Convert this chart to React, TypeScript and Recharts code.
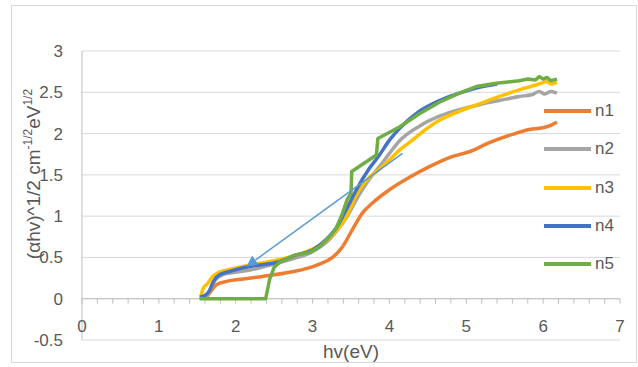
import React from 'react';
import { LineChart, Line, XAxis, YAxis, CartesianGrid, ReferenceLine } from 'recharts';

// [hv, (αhv)^1/2]
const n1Points: [number, number][] = [
  [1.62, 0.02], [1.66, 0.07], [1.75, 0.17], [1.88, 0.21], [2.1, 0.24], [2.35, 0.27],
  [2.7, 0.32], [2.94, 0.37], [3.09, 0.42], [3.26, 0.5], [3.39, 0.63], [3.52, 0.84],
  [3.65, 1.04], [3.78, 1.16], [4.0, 1.32], [4.26, 1.47], [4.52, 1.6], [4.78, 1.71],
  [5.04, 1.78], [5.3, 1.89], [5.6, 1.99], [5.82, 2.05], [5.99, 2.07], [6.1, 2.1], [6.18, 2.14],
];
const n2Points: [number, number][] = [
  [1.62, 0.03], [1.66, 0.1], [1.73, 0.22], [1.83, 0.29], [2.0, 0.32], [2.2, 0.35],
  [2.5, 0.42], [2.8, 0.5], [3.0, 0.57], [3.22, 0.72], [3.33, 0.84], [3.44, 0.98],
  [3.6, 1.25], [3.74, 1.45], [3.87, 1.6], [4.0, 1.76], [4.13, 1.91], [4.39, 2.09],
  [4.65, 2.21], [4.91, 2.29], [5.17, 2.35], [5.43, 2.4], [5.69, 2.45], [5.85, 2.47],
  [5.95, 2.51], [6.02, 2.48], [6.1, 2.51], [6.18, 2.49],
];
const n3Points: [number, number][] = [
  [1.55, 0.04], [1.57, 0.11], [1.64, 0.19], [1.7, 0.27], [1.78, 0.32], [1.9, 0.35],
  [2.2, 0.41], [2.5, 0.46], [2.8, 0.53], [3.0, 0.6], [3.22, 0.74], [3.33, 0.85],
  [3.44, 0.99], [3.57, 1.26], [3.74, 1.47], [3.87, 1.57], [4.0, 1.68], [4.13, 1.8],
  [4.3, 1.92], [4.39, 1.99], [4.65, 2.16], [4.91, 2.27], [5.17, 2.36], [5.43, 2.45],
  [5.69, 2.53], [5.95, 2.6], [6.05, 2.63], [6.1, 2.6], [6.18, 2.62],
];
const n4Points: [number, number][] = [
  [1.53, 0.02], [1.6, 0.04], [1.66, 0.1], [1.7, 0.19], [1.75, 0.26], [1.79, 0.29],
  [1.92, 0.33], [2.18, 0.39], [2.57, 0.45], [2.79, 0.53], [3.0, 0.59], [3.18, 0.72],
  [3.31, 0.86], [3.44, 1.08], [3.57, 1.32], [3.74, 1.58], [3.87, 1.74], [4.0, 1.92],
  [4.13, 2.06], [4.39, 2.27], [4.65, 2.4], [4.91, 2.49], [5.17, 2.56], [5.4, 2.6],
];
const n5Points: [number, number][] = [
  [1.53, 0], [2.39, 0], [2.44, 0.23], [2.5, 0.38], [2.57, 0.44], [2.66, 0.48],
  [2.77, 0.53], [2.96, 0.56], [3.09, 0.63], [3.22, 0.75], [3.31, 0.86], [3.38, 1.01],
  [3.45, 1.2], [3.5, 1.28], [3.51, 1.54], [3.83, 1.74], [3.85, 1.94], [4.13, 2.08],
  [4.39, 2.24], [4.65, 2.38], [4.91, 2.49], [5.13, 2.57], [5.39, 2.61], [5.6, 2.63],
  [5.69, 2.64], [5.8, 2.66], [5.9, 2.65], [5.95, 2.69], [6.0, 2.66], [6.05, 2.68],
  [6.1, 2.64], [6.18, 2.66],
];
// the hand-drawn arrow on the chart: from (start) to (tip)
const arrowPoints: [number, number][] = [[4.17, 1.76], [2.14, 0.39]];

const seriesNames = ['n1', 'n2', 'n3', 'n4', 'n5'];
const seriesPoints = [n1Points, n2Points, n3Points, n4Points, n5Points];
const seriesColors = ['#ED7D31', '#A5A5A5', '#FFC000', '#4472C4', '#70AD47'];
const seriesCurve: ('monotone' | 'linear')[] = ['monotone', 'monotone', 'monotone', 'monotone', 'linear'];

const xTicks = [0, 1, 2, 3, 4, 5, 6, 7];
const yTicks = [-0.5, 0, 0.5, 1, 1.5, 2, 2.5, 3];
const minorXTicks = Array.from({ length: 36 }, (_, i) => Math.round(i * 2) / 10);

const FONT = '"Liberation Sans", Arial, sans-serif';
const TEXT = '#595959';

const toRows = (pts: [number, number][]) => pts.map(([x, y]) => ({ x, y }));

const XTick = ({ x, y, payload }: any) => (
  <text x={x} y={y - 8} textAnchor="middle" fill={TEXT} fontSize={17} fontFamily={FONT}>
    {payload.value}
  </text>
);

const YTitle = () => (
  <text
    transform="translate(40,174) rotate(-90)"
    textAnchor="middle"
    fill={TEXT}
    fontSize={19}
    fontFamily={FONT}
  >
    (αhv)^1/2 cm
    <tspan fontSize={12} dy={-8}>-1/2</tspan>
    <tspan dy={8}>eV</tspan>
    <tspan fontSize={12} dy={-8}>1/2</tspan>
  </text>
);

const XTitle = (props: any) => {
  const { x, y, width } = props.viewBox;
  return (
    <text x={x + width / 2} y={y + 18} textAnchor="middle" fill={TEXT} fontSize={19} fontFamily={FONT}>
      hv(eV)
    </text>
  );
};

// line with an arrowhead at its second end
const ArrowShape = (props: any) => {
  const { x1, y1, x2, y2 } = props;
  const dx = x2 - x1;
  const dy = y2 - y1;
  const len = Math.sqrt(dx * dx + dy * dy) || 1;
  const ux = dx / len;
  const uy = dy / len;
  const bx = x2 - ux * 11;
  const by = y2 - uy * 11;
  const hw = 5.5;
  return (
    <g>
      <line x1={x1} y1={y1} x2={bx} y2={by} stroke="#5B9BD5" strokeWidth={1.5} />
      <polygon
        points={`${x2},${y2} ${bx - uy * hw},${by + ux * hw} ${bx + uy * hw},${by - ux * hw}`}
        fill="#5B9BD5"
      />
    </g>
  );
};

export default function App() {
  return (
    <div style={{ position: 'absolute', left: 0, top: 0, width: 638, height: 367, background: '#fff' }}>
      <div
        style={{
          position: 'absolute',
          left: 11,
          top: 5,
          width: 626,
          height: 358,
          border: '1px solid #d9d9d9',
          boxSizing: 'border-box',
        }}
      />
      <LineChart
        width={638}
        height={367}
        margin={{ top: 51, right: 18, left: 0, bottom: 0 }}
        style={{ position: 'absolute', left: 0, top: 0 }}
      >
        <CartesianGrid vertical={false} stroke="#d9d9d9" strokeWidth={1} />
        <XAxis
          dataKey="x"
          type="number"
          domain={[0, 7]}
          ticks={xTicks}
          height={27}
          axisLine={false}
          tickLine={false}
          tickSize={0}
          tickMargin={0}
          tick={<XTick />}
          label={{ content: XTitle }}
        />
        <YAxis
          type="number"
          domain={[-0.5, 3]}
          ticks={yTicks}
          width={82}
          axisLine={{ stroke: '#bfbfbf' }}
          tickLine={false}
          tickSize={6}
          tickMargin={13}
          tick={{ fill: TEXT, fontSize: 17, fontFamily: FONT }}
          label={{ content: YTitle }}
        />
        <ReferenceLine y={0} stroke="#bfbfbf" strokeWidth={1} />
        {minorXTicks.map((t) => (
          <ReferenceLine
            key={`mt-${t}`}
            segment={[{ x: t, y: 0 }, { x: t, y: -0.06 }]}
            stroke="#bfbfbf"
            strokeWidth={1}
          />
        ))}
        {seriesNames.map((name, i) => (
          <Line
            key={name}
            name={name}
            data={toRows(seriesPoints[i])}
            dataKey="y"
            type={seriesCurve[i]}
            stroke={seriesColors[i]}
            strokeWidth={3.5}
            strokeLinejoin="round"
            dot={false}
            isAnimationActive={false}
          />
        ))}
        <ReferenceLine
          segment={arrowPoints.map(([x, y]) => ({ x, y }))}
          shape={ArrowShape}
        />
      </LineChart>
      <div style={{ position: 'absolute', left: 544, top: 101, fontFamily: FONT, fontSize: 17, color: TEXT }}>
        {seriesNames.map((name, i) => (
          <div key={name} style={{ display: 'flex', alignItems: 'center', height: 20, marginBottom: 18.3 }}>
            <div style={{ width: 47, height: 4, background: seriesColors[i], marginRight: 4 }} />
            <span>{name}</span>
          </div>
        ))}
      </div>
    </div>
  );
}
